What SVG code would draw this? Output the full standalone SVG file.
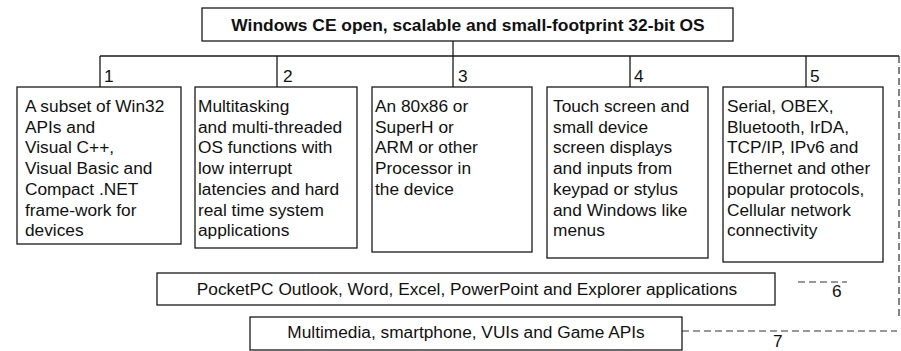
<svg xmlns="http://www.w3.org/2000/svg" width="901" height="351" viewBox="0 0 901 351">
<style>
  .box { fill: #ffffff; stroke: #1a1a1a; stroke-width: 1.3; }
  .line { fill: none; stroke: #1a1a1a; stroke-width: 1.3; }
  .dash { fill: none; stroke: #333333; stroke-width: 1.2; stroke-dasharray: 7 4; }
  .t { font-family: "Liberation Sans", Arial, sans-serif; font-size: 17.3px; fill: #111111; }
  .title { font-family: "Liberation Sans", Arial, sans-serif; font-size: 17.4px; font-weight: bold; fill: #111111; }
  .mid { text-anchor: middle; }
</style>
<rect width="901" height="351" fill="#ffffff"/>
<g id="connectors">
  <path class="line" d="M453 41 V56 M100 56 H899 M100 56 V87 M277 56 V87 M453 56 V87 M630 56 V87 M806 56 V87"/>
  <path class="dash" d="M899 56 V317" stroke-dasharray="30 4"/>
  <path class="dash" d="M798 282 H847"/>
  <path class="dash" d="M682 331 H897"/>
  <text class="t" x="104" y="82">1</text>
  <text class="t" x="283" y="82">2</text>
  <text class="t" x="458" y="82">3</text>
  <text class="t" x="634" y="82">4</text>
  <text class="t" x="810" y="82">5</text>
  <text class="t" x="832" y="297">6</text>
  <text class="t" x="773" y="347">7</text>
</g>
<g id="node-os">
  <rect class="box" x="202" y="8" width="531" height="33"/>
  <text class="title mid" x="468" y="31">Windows CE open, scalable and small-footprint 32-bit OS</text>
</g>
<g id="node-1">
  <rect class="box" x="17" y="87" width="164" height="157"/>
  <text class="t" x="25" y="112">A subset of Win32</text>
  <text class="t" x="25" y="132.7">APIs and</text>
  <text class="t" x="25" y="153.4">Visual C++,</text>
  <text class="t" x="25" y="174.1">Visual Basic and</text>
  <text class="t" x="25" y="194.8">Compact .NET</text>
  <text class="t" x="25" y="215.5">frame-work for</text>
  <text class="t" x="25" y="236.2">devices</text>
</g>
<g id="node-2">
  <rect class="box" x="195" y="87" width="162" height="161"/>
  <text class="t" x="198" y="112">Multitasking</text>
  <text class="t" x="198" y="132.7">and multi-threaded</text>
  <text class="t" x="198" y="153.4">OS functions with</text>
  <text class="t" x="198" y="174.1">low interrupt</text>
  <text class="t" x="198" y="194.8">latencies and hard</text>
  <text class="t" x="198" y="215.5">real time system</text>
  <text class="t" x="198" y="236.2">applications</text>
</g>
<g id="node-3">
  <rect class="box" x="372" y="87" width="160" height="165"/>
  <text class="t" x="375" y="112">An 80x86 or</text>
  <text class="t" x="375" y="132.7">SuperH or</text>
  <text class="t" x="375" y="153.4">ARM or other</text>
  <text class="t" x="375" y="174.1">Processor in</text>
  <text class="t" x="375" y="194.8">the device</text>
</g>
<g id="node-4">
  <rect class="box" x="547" y="87" width="161" height="171"/>
  <text class="t" x="553" y="112">Touch screen and</text>
  <text class="t" x="553" y="132.7">small device</text>
  <text class="t" x="553" y="153.4">screen displays</text>
  <text class="t" x="553" y="174.1">and inputs from</text>
  <text class="t" x="553" y="194.8">keypad or stylus</text>
  <text class="t" x="553" y="215.5">and Windows like</text>
  <text class="t" x="553" y="236.2">menus</text>
</g>
<g id="node-5">
  <rect class="box" x="723" y="87" width="160" height="175"/>
  <text class="t" x="727" y="112">Serial, OBEX,</text>
  <text class="t" x="727" y="132.7">Bluetooth, IrDA,</text>
  <text class="t" x="727" y="153.4">TCP/IP, IPv6 and</text>
  <text class="t" x="727" y="174.1">Ethernet and other</text>
  <text class="t" x="727" y="194.8">popular protocols,</text>
  <text class="t" x="727" y="215.5">Cellular network</text>
  <text class="t" x="727" y="236.2">connectivity</text>
</g>
<g id="node-6">
  <rect class="box" x="157" y="273" width="618" height="32"/>
  <text class="t mid" x="467" y="295">PocketPC Outlook, Word, Excel, PowerPoint and Explorer applications</text>
</g>
<g id="node-7">
  <rect class="box" x="250" y="317" width="432" height="33"/>
  <text class="t mid" x="466" y="338">Multimedia, smartphone, VUIs and Game APIs</text>
</g>
</svg>
